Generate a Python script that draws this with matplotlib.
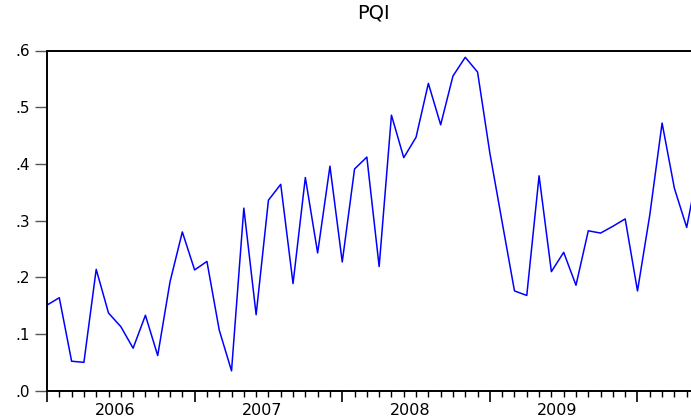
import matplotlib
matplotlib.use("Agg")
import matplotlib.pyplot as plt
import numpy as np

# monthly PQI series (starts 2006m1)
pqi = [0.151, 0.164, 0.052, 0.050, 0.214, 0.137, 0.113, 0.075, 0.133, 0.062,
       0.192, 0.280, 0.213, 0.228, 0.107, 0.035, 0.322, 0.134, 0.336, 0.364,
       0.189, 0.376, 0.243, 0.396, 0.227, 0.391, 0.412, 0.219, 0.486, 0.411,
       0.447, 0.542, 0.469, 0.555, 0.588, 0.562, 0.419, 0.297, 0.176, 0.168,
       0.379, 0.210, 0.244, 0.186, 0.282, 0.278, 0.290, 0.303, 0.176, 0.310,
       0.472, 0.357, 0.288, 0.400]
years = ["2006", "2007", "2008", "2009"]
y_ticks = [0.0, 0.1, 0.2, 0.3, 0.4, 0.5, 0.6]
y_labels = [".0", ".1", ".2", ".3", ".4", ".5", ".6"]

plt.rcParams["font.family"] = ["DejaVu Sans"]

W, H = 691, 418
fig = plt.figure(figsize=(W / 100, H / 100), dpi=100)
left, right, bottom, top = 47, 699, 390.7, 50.5
ax = fig.add_axes([left / W, (H - bottom) / H, (right - left) / W, (bottom - top) / H])

x = np.arange(len(pqi))
ax.plot(x, pqi, color="#0000ff", lw=1.1)

ax.set_xlim(0, len(pqi) - 1)
ax.set_ylim(0, 0.6)

ax.set_yticks(y_ticks)
ax.set_yticklabels(y_labels)
ax.tick_params(axis="y", direction="out", length=9, width=1.0, color="#555555",
               labelsize=11, pad=3)

# major ticks at year starts, minor ticks every month
ax.set_xticks(np.arange(0, len(pqi), 12))
ax.set_xticklabels([])
ax.set_xticks(x, minor=True)
ax.tick_params(axis="x", which="major", direction="out", length=8, width=1.2, color="black")
ax.tick_params(axis="x", which="minor", direction="out", length=4, width=1.0, color="black")
for i, yr in enumerate(years):
    ax.text(12 * i + 5.5, -0.021, yr, ha="center", va="top", fontsize=11.5)

for s in ["left", "bottom", "top"]:
    ax.spines[s].set_linewidth(1.4)
    ax.spines[s].set_color("black")
ax.spines["right"].set_visible(False)

ax.set_title("PQI", fontsize=14, pad=23)

fig.savefig("out.png", dpi=100)
